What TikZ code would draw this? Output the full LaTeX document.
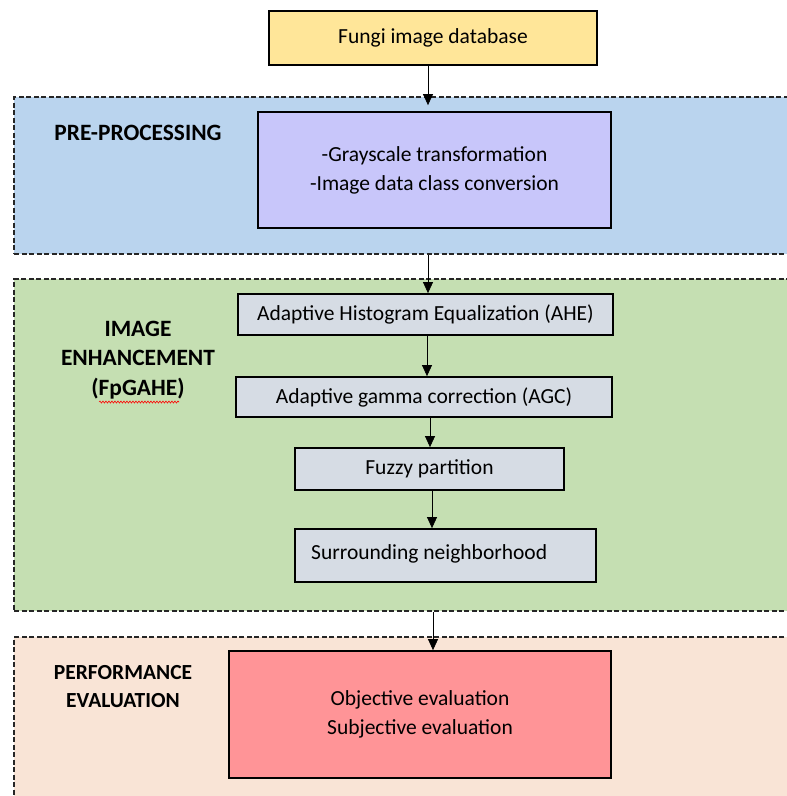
\documentclass[tikz,border=0pt]{standalone}
\usepackage{fontspec}
\setmainfont{Carlito}
\usetikzlibrary{arrows.meta,decorations.pathmorphing}
\definecolor{topyellow}{HTML}{FFE699}
\definecolor{bluebg}{HTML}{BAD4EE}
\definecolor{purplebox}{HTML}{C8C6FA}
\definecolor{greenbg}{HTML}{C5DFB2}
\definecolor{graybox}{HTML}{D6DCE4}
\definecolor{peachbg}{HTML}{F9E4D6}
\definecolor{redbox}{HTML}{FF9497}
\begin{document}
\begin{tikzpicture}[x=1pt,y=-1pt,
  region/.style={draw=black!85, dash pattern=on 5pt off 2.5pt, line width=2pt, anchor=north west, inner sep=0pt},
  box/.style={draw, line width=1.8pt, inner sep=0pt, align=center, font=\fontsize{21.5}{29}\selectfont},
  txt/.style={inner sep=0pt, font=\fontsize{21.5}{29}\selectfont},
  lbl/.style={font=\fontsize{23.4}{29.5}\selectfont\bfseries, align=center},
  arr/.style={-{Triangle[length=11pt,width=10pt]}, line width=0.7pt}]
\useasboundingbox (0,0) rectangle (787,796);
\clip (0,0) rectangle (787,796);
% regions
\node[region, fill=bluebg, minimum width=800, minimum height=157] (pre) at (13,96) {};
\node[region, fill=greenbg, minimum width=800, minimum height=332] (enh) at (13,278) {};
\node[region, fill=peachbg, minimum width=800, minimum height=190] (perf) at (13,636) {};
% labels
\node[lbl] (lpre) at (138,133) {PRE-PROCESSING};
\node[lbl] (lenh) at (138,360) {IMAGE\\ENHANCEMENT\\(FpGAHE)};
\node[lbl, font=\fontsize{21.5}{28}\selectfont\bfseries] (lperf) at (123,687) {PERFORMANCE\\EVALUATION};
\draw[red, line width=0.6pt, decorate, decoration={snake, amplitude=1pt, segment length=3pt}] (99,402) -- (179,402);
% boxes
\node[box, fill=topyellow, minimum width=328, minimum height=54] (top) at (433,38) {Fungi image database};
\node[box, fill=purplebox, minimum width=353, minimum height=116] (purple) at (434.5,170) {-Grayscale transformation\\-Image data class conversion};
\node[box, fill=graybox, minimum width=375, minimum height=41] (ahe) at (425.5,314.5) {Adaptive Histogram Equalization (AHE)};
\node[box, fill=graybox, minimum width=376, minimum height=40] (agc) at (424,397) {Adaptive gamma correction (AGC)};
\node[box, fill=graybox, minimum width=269, minimum height=42] (fuzzy) at (429.5,469) {Fuzzy partition};
\node[box, fill=graybox, minimum width=301, minimum height=53] (surr) at (445.5,555.5) {};
\node[txt, anchor=west] (surrtext) at (311,554) {Surrounding neighborhood};
\node[box, fill=redbox, minimum width=382, minimum height=127] (eval) at (420,714.5) {Objective evaluation\\Subjective evaluation};
% arrow columns
\coordinate (a1) at (428,0);
\coordinate (a2) at (428,0);
\coordinate (a3) at (427,0);
\coordinate (a4) at (430,0);
\coordinate (a5) at (432,0);
\coordinate (a6) at (433,0);
\draw[arr, shorten >=6pt] (top.south -| a1) -- (purple.north -| a1);
\draw[arr] (pre.south -| a2) -- (ahe.north -| a2);
\draw[arr] (ahe.south -| a3) -- (agc.north -| a3);
\draw[arr] (agc.south -| a4) -- (fuzzy.north -| a4);
\draw[arr] (fuzzy.south -| a5) -- (surr.north -| a5);
\draw[arr] (enh.south -| a6) -- (eval.north -| a6);
\end{tikzpicture}
\end{document}
